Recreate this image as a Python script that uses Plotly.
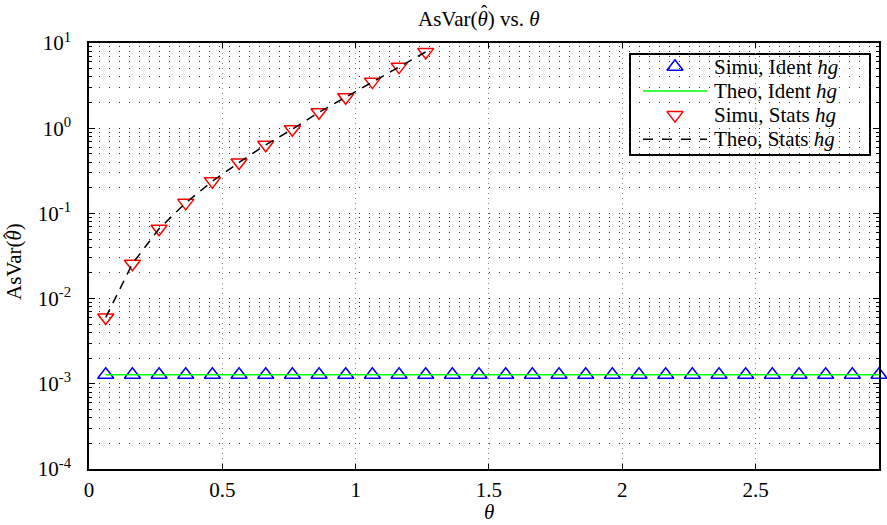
import plotly.graph_objects as go

# ---------------- data ----------------
theta = [0.0628 + 0.1 * k for k in range(30)]
simu_ident = [1.28e-3] * 30
theo_ident = [1.28e-3] * 30

theta_stats = theta[:13]
simu_stats = [6.0e-3, 0.0257, 0.0661, 0.133, 0.239, 0.396, 0.638,
              0.973, 1.54, 2.31, 3.52, 5.28, 7.86]
theo_stats = [6.0e-3, 0.0257, 0.0661, 0.133, 0.239, 0.396, 0.638,
              0.973, 1.54, 2.31, 3.52, 5.28, 7.86]

legend_labels = ["Simu, Ident <i>hg</i>", "Theo, Ident <i>hg</i>",
                 "Simu, Stats <i>hg</i>", "Theo, Stats <i>hg</i>"]

y_exps = [-4, -3, -2, -1, 0, 1]
y_ticktext = ["10<sup>%d</sup>" % e for e in y_exps]
x_ticks = [0, 0.5, 1, 1.5, 2, 2.5]
x_ticktext = ["0", "0.5", "1", "1.5", "2", "2.5"]

FONT = "Liberation Serif"
BLUE, GREEN, RED = "#0000ff", "#00ff00", "#ff0000"

# plot-area geometry (pixels) for the hand-made legend box and titles
W, H = 887, 525
ML, MR, MT, MB = 89, 8, 43, 56
PW, PH = W - ML - MR, H - MT - MB


def fx(px):
    return (px - ML) / PW


def fy(py):
    return (H - MB - py) / PH


fig = go.Figure()
fig.add_trace(go.Scatter(x=theta, y=simu_ident, mode="markers", showlegend=False,
                         cliponaxis=False,
                         marker=dict(symbol="triangle-up-open", size=14,
                                     color=BLUE, line=dict(width=1.5, color=BLUE))))
fig.add_trace(go.Scatter(x=theta, y=theo_ident, mode="lines", showlegend=False,
                         line=dict(color=GREEN, width=1.5)))
fig.add_trace(go.Scatter(x=theta_stats, y=simu_stats, mode="markers", showlegend=False,
                         cliponaxis=False,
                         marker=dict(symbol="triangle-down-open", size=14,
                                     color=RED, line=dict(width=1.5, color=RED))))
fig.add_trace(go.Scatter(x=theta_stats, y=theo_stats, mode="lines", showlegend=False,
                         line=dict(color="#000000", width=1.5, dash="9px,7px")))

# ---------------- legend (drawn by hand to mimic MATLAB) ----------------
box_l, box_r, box_t, box_b = 630, 870, 54, 155
row0, pitch = 66.7, 24.2
rows = [row0 + i * pitch for i in range(4)]
sym_l, sym_r, txt_l = 643, 707, 713
sym_c = (sym_l + sym_r) / 2

shapes = [dict(type="rect", xref="paper", yref="paper",
               x0=fx(box_l), x1=fx(box_r), y0=fy(box_b), y1=fy(box_t),
               line=dict(color="black", width=2), fillcolor="white", layer="between"),
          dict(type="line", xref="paper", yref="paper",
               x0=fx(sym_l), x1=fx(sym_r), y0=fy(rows[1]), y1=fy(rows[1]),
               line=dict(color=GREEN, width=1.5)),
          dict(type="line", xref="paper", yref="paper",
               x0=fx(sym_l), x1=fx(sym_r), y0=fy(rows[3]), y1=fy(rows[3]),
               line=dict(color="black", width=1.5, dash="10px,9px"))]

fig.add_trace(go.Scatter(x=[fx(sym_c)], y=[fy(rows[0])], xaxis="x2", yaxis="y2",
                         mode="markers", showlegend=False, hoverinfo="skip",
                         marker=dict(symbol="triangle-up-open", size=14,
                                     color=BLUE, line=dict(width=1.5, color=BLUE))))
fig.add_trace(go.Scatter(x=[fx(sym_c)], y=[fy(rows[2])], xaxis="x2", yaxis="y2",
                         mode="markers", showlegend=False, hoverinfo="skip",
                         marker=dict(symbol="triangle-down-open", size=14,
                                     color=RED, line=dict(width=1.5, color=RED))))


def ann(text, px, py, size=21, angle=0, xanchor="center"):
    return dict(text=text, xref="paper", yref="paper", x=fx(px), y=fy(py),
                xanchor=xanchor, yanchor="middle", showarrow=False, borderpad=0,
                textangle=angle, font=dict(family=FONT, size=size, color="black"))


annotations = [ann(lab, txt_l, r, xanchor="left") for lab, r in zip(legend_labels, rows)]

# titles (hat over theta added as a separate glyph)
title_cx, title_cy = 479, 19
annotations.append(ann("AsVar(<i>θ</i>) vs. <i>θ</i>", title_cx, title_cy))
annotations.append(ann("ˆ", title_cx + 5, title_cy - 7, size=19))

ylab_cx, ylab_cy = 14, 262
annotations.append(ann("AsVar(<i>θ</i>)", ylab_cx, ylab_cy, angle=-90))
annotations.append(ann("‹", 5, ylab_cy - 27, size=17))

annotations.append(ann("<i>θ</i>", 489, 512))

minor_vals = [m * 10 ** e for e in range(-4, 1) for m in range(2, 10)]

fig.update_layout(
    width=W, height=H,
    margin=dict(l=ML, r=MR, t=MT, b=MB, autoexpand=False),
    paper_bgcolor="white", plot_bgcolor="white",
    font=dict(family=FONT, size=20, color="black"),
    showlegend=False,
    shapes=shapes,
    annotations=annotations,
    xaxis=dict(range=[0, theta[-1]], tickvals=x_ticks, ticktext=x_ticktext,
               ticks="inside", ticklen=5, tickcolor="black", tickwidth=1,
               showline=True, linecolor="black", linewidth=1.5, mirror="ticks",
               showgrid=True, gridcolor="#888888", griddash="1px,4px", gridwidth=1,
               zeroline=False, ticklabelstandoff=1, automargin=False,
               tickfont=dict(family=FONT, size=21)),
    yaxis=dict(type="log", range=[-4, 1],
               tickvals=[10 ** e for e in y_exps], ticktext=y_ticktext,
               ticks="inside", ticklen=6, tickcolor="black", tickwidth=1,
               showline=True, linecolor="black", linewidth=1.5, mirror="ticks",
               showgrid=True, gridcolor="#333333", griddash="1px,9px", gridwidth=1,
               zeroline=False, ticklabelstandoff=12, automargin=False,
               tickfont=dict(family=FONT, size=21),
               minor=dict(tickmode="array", tickvals=minor_vals, ticks="inside",
                          ticklen=3, tickcolor="black", showgrid=True,
                          gridcolor="#333333", griddash="1px,9px", gridwidth=1)),
    xaxis2=dict(overlaying="x", range=[0, 1], visible=False, fixedrange=True),
    yaxis2=dict(overlaying="y", range=[0, 1], visible=False, fixedrange=True),
)

fig.write_html("out.html", config={"displayModeBar": False},
               post_script="document.body.style.margin='0px';")
